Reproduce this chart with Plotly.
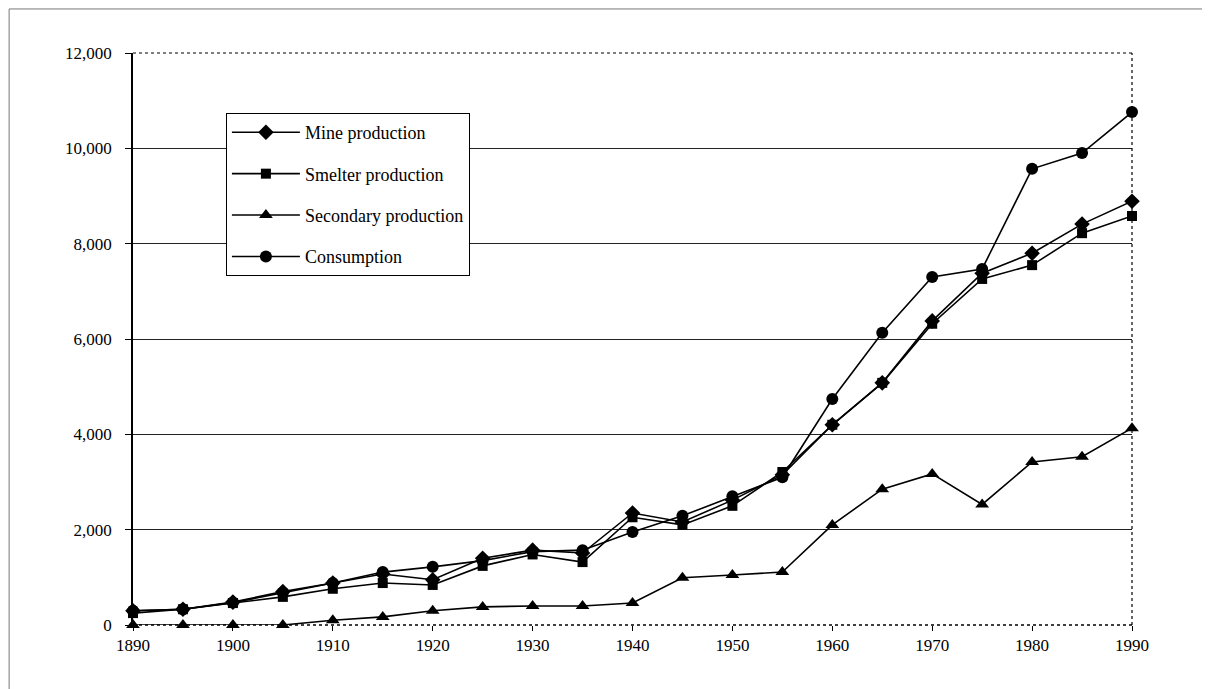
import plotly.graph_objects as go

years = [1890, 1895, 1900, 1905, 1910, 1915, 1920, 1925, 1930, 1935, 1940,
         1945, 1950, 1955, 1960, 1965, 1970, 1975, 1980, 1985, 1990]
mine = [300, 330, 480, 700, 880, 1070, 950, 1400, 1570, 1510, 2350,
        2160, 2620, 3150, 4200, 5080, 6380, 7380, 7800, 8410, 8890]
smelter = [250, 330, 460, 590, 760, 880, 840, 1240, 1480, 1320, 2260,
           2100, 2500, 3210, 4200, 5080, 6320, 7260, 7550, 8220, 8580]
secondary = [0, 0, 0, 0, 100, 170, 300, 380, 400, 400, 460,
             990, 1050, 1110, 2100, 2850, 3170, 2530, 3420, 3530, 4130]
consumption = [300, 330, 470, 680, 880, 1110, 1220, 1350, 1540, 1570, 1950,
               2290, 2700, 3100, 4740, 6130, 7300, 7470, 9570, 9900, 10760]

series = [
    ("Mine production", mine, "diamond", 12),
    ("Smelter production", smelter, "square", 10),
    ("Secondary production", secondary, "triangle-up", 12),
    ("Consumption", consumption, "circle", 12),
]

fig = go.Figure()
for i, (name, vals, sym, sz) in enumerate(series):
    fig.add_trace(go.Scatter(
        x=years, y=vals, name=name, mode="lines+markers",
        legendgroup=f"g{i}", cliponaxis=False,
        line=dict(color="black", width=1.6),
        marker=dict(symbol=sym, size=sz, color="black"),
    ))

serif = "Liberation Serif, Times New Roman, serif"
L, R, T, B = 125, 86, 45, 72
fig.update_layout(
    width=1210, height=689,
    margin=dict(l=L, r=R, t=T, b=B),
    paper_bgcolor="white", plot_bgcolor="white",
    font=dict(family=serif, size=17, color="black"),
    showlegend=True,
    legend=dict(
        x=0.093, y=0.895, xanchor="left", yanchor="top",
        bordercolor="black", borderwidth=1, bgcolor="white",
        font=dict(family=serif, size=18, color="black"),
        traceorder="grouped", tracegroupgap=15,
        itemwidth=68,
    ),
    xaxis=dict(
        range=[1890, 1990], tickvals=list(range(1890, 1991, 10)),
        showgrid=False, zeroline=False, showline=False,
        ticks="outside", ticklen=5, tickcolor="black",
        tickfont=dict(family=serif, size=17, color="black"),
    ),
    yaxis=dict(
        range=[0, 12000], tickvals=list(range(0, 12001, 2000)),
        tickformat=",d", showgrid=True, gridcolor="#222", gridwidth=1,
        zeroline=False, showline=True, linecolor="black", linewidth=1.5,
        ticks="outside", ticklen=6, tickcolor="black",
        ticklabelstandoff=10,
        tickfont=dict(family=serif, size=17, color="black"),
    ),
    shapes=[
        dict(type="line", xref="paper", yref="paper", x0=0, x1=1, y0=1, y1=1,
             line=dict(color="black", width=1.2, dash="dot")),
        dict(type="line", xref="paper", yref="paper", x0=1, x1=1, y0=0, y1=1,
             line=dict(color="black", width=1.2, dash="dot")),
        dict(type="line", xref="paper", yref="paper", x0=0, x1=1, y0=0, y1=0,
             line=dict(color="black", width=1.5, dash="dot")),
        dict(type="line", xref="paper", yref="paper",
             x0=-0.124, x1=1.09, y0=1.077, y1=1.077,
             line=dict(color="#777", width=1)),
        dict(type="line", xref="paper", yref="paper",
             x0=-0.124, x1=-0.124, y0=-0.13, y1=1.077,
             line=dict(color="#777", width=1)),
    ],
)

fig.write_html("out.html")
